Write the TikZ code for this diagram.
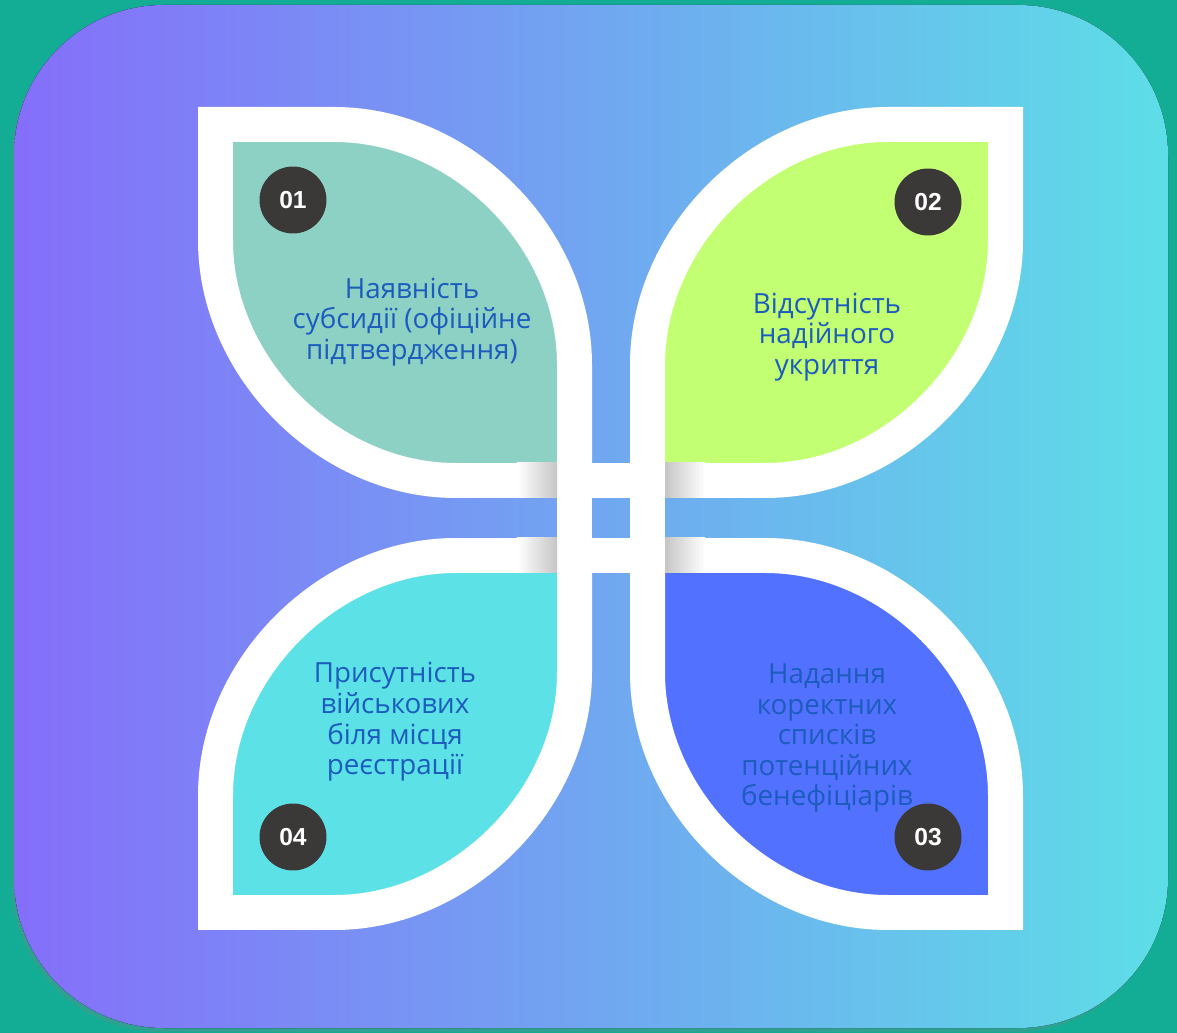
\documentclass[tikz,border=0pt]{standalone}
\usepackage{fontspec}
\setmainfont{Open Sans}
\newfontfamily\numfont{Liberation Sans}
\usetikzlibrary{shadows}

\definecolor{bgteal}{RGB}{19,173,150}
\definecolor{gradleft}{RGB}{133,110,250}
\definecolor{gradright}{RGB}{93,222,231}
\definecolor{leafone}{RGB}{141,208,196}
\definecolor{leaftwo}{RGB}{194,255,114}
\definecolor{leafthree}{RGB}{82,113,255}
\definecolor{leaffour}{RGB}{92,225,230}
\definecolor{labelblue}{RGB}{28,92,188}
\definecolor{badge}{RGB}{59,56,56}

\tikzset{
  leafline/.style={draw=white, line width=0.7cm},
  barline/.style={white, line width=0.7cm},
  badgenode/.style={circle, fill=badge, minimum size=1.34cm, inner sep=0pt, text=white,
    font=\numfont\bfseries\fontsize{14}{16}\selectfont},
  leaftext/.style={align=center, text=labelblue, font=\fontsize{15.8}{17.4}\selectfont},
}

\begin{document}
\begin{tikzpicture}[x=0.02cm, y=-0.02cm]
    \useasboundingbox (0,0) rectangle (1177,1033);
    \fill[bgteal] (0,0) rectangle (1177,1033);

    % panel
    \fill[left color=gradleft, right color=gradright, rounded corners=3cm,
      drop shadow={shadow xshift=-0.06cm, shadow yshift=-0.08cm, opacity=0.25}]
      (14,5) rectangle (1168,1028);

    % inner corners of the leaves
    \coordinate (tlc) at (574.5,480.5);
    \coordinate (trc) at (647.5,480.5);
    \coordinate (blc) at (574.5,555.5);
    \coordinate (brc) at (647.5,555.5);

    % leaves
    \draw[leafline, fill=leafone] (tlc) -- (455.5,480.5) .. controls (328.5,480.5) and (215.5,367.5) .. (215.5,240.5)
      -- (215.5,124.5) -- (334.5,124.5) .. controls (461.5,124.5) and (574.5,237.5) .. (574.5,364.5) -- cycle;
    \draw[leafline, fill=leaftwo] (trc) -- (647.5,364.5) .. controls (647.5,237.5) and (760.5,124.5) .. (887.5,124.5)
      -- (1005.5,124.5) -- (1005.5,240.5) .. controls (1005.5,367.5) and (892.5,480.5) .. (765.5,480.5) -- cycle;
    \draw[leafline, fill=leaffour] (blc) -- (455.5,555.5) .. controls (328.5,555.5) and (215.5,668.5) .. (215.5,795.5)
      -- (215.5,912.5) -- (334.5,912.5) .. controls (461.5,912.5) and (574.5,799.5) .. (574.5,672.5) -- cycle;
    \draw[leafline, fill=leafthree] (brc) -- (765.5,555.5) .. controls (892.5,555.5) and (1005.5,668.5) .. (1005.5,795.5)
      -- (1005.5,912.5) -- (887.5,912.5) .. controls (760.5,912.5) and (647.5,799.5) .. (647.5,672.5) -- cycle;

    % bars between the leaves
    \draw[barline] (tlc) -- (trc);
    \draw[barline] (blc) -- (brc);
    \draw[barline] (tlc) -- (blc);
    \draw[barline] (trc) -- (brc);

    \shade[left color=white, right color=gray!45] (517,463) rectangle (557,498);
    \shade[left color=white, right color=gray!45] (517,538) rectangle (557,573);
    \shade[left color=gray!45, right color=white] (665,463) rectangle (705,498);
    \shade[left color=gray!45, right color=white] (665,538) rectangle (705,573);

    % numbers
    \node[badgenode] (one) at (293,200) {01};
    \node[badgenode] (two) at (928,202) {02};
    \node[badgenode] (three) at (928,837) {03};
    \node[badgenode] (four) at (293,837) {04};

    % texts
    \node[leaftext] (txtone) at (412,322) {Наявність\\субсидії (офіційне\\підтвердження)};
    \node[leaftext] (txttwo) at (827,337) {Відсутність\\надійного\\укриття};
    \node[leaftext] (txtfour) at (395,722) {Присутність\\військових\\біля місця\\реєстрації};
    \node[leaftext] (txtthree) at (827,738) {Надання\\коректних\\списків\\потенційних\\бенефіціарів};
\end{tikzpicture}
\end{document}
